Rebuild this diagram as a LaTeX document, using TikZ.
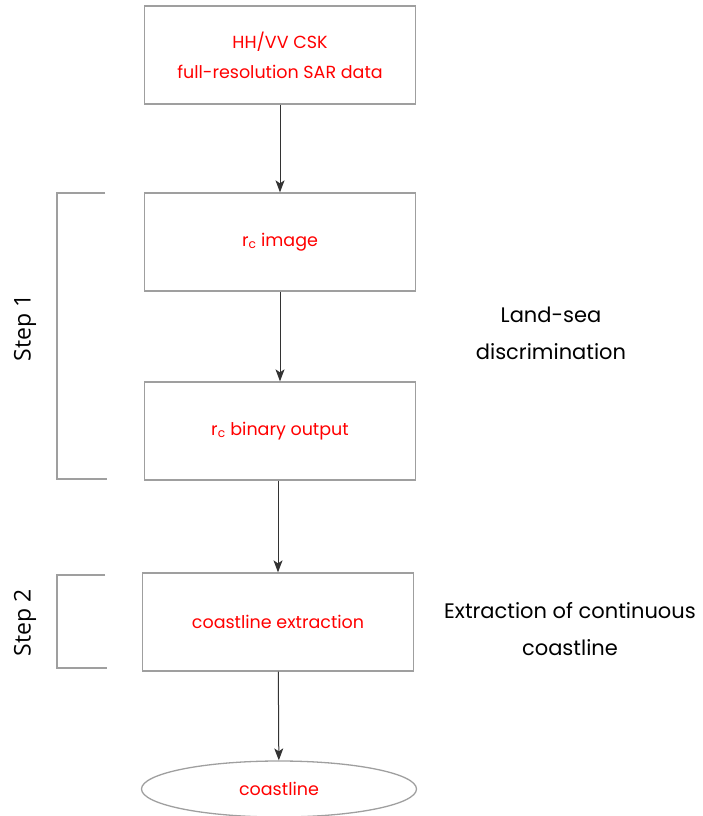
\documentclass[tikz,border=0pt]{standalone}
\usepackage{fontspec}
\setmainfont{Poppins}
\newfontfamily\stepfont{Open Sans}
\usetikzlibrary{arrows.meta,shapes.geometric}
\tikzset{
  flowbox/.style={draw=gray!75, line width=1.3pt, inner sep=0pt, minimum width=271pt, minimum height=98pt, text=red, align=center, font=\fontsize{17.5}{30}\selectfont},
  flowend/.style={flowbox, ellipse, minimum width=275pt, minimum height=56pt},
  flow/.style={-{Stealth[length=12pt,width=9pt,inset=3pt]}, black!80, line width=1pt},
  bracket/.style={gray!75, line width=1.3pt},
  note/.style={align=center, font=\fontsize{21}{37}\selectfont},
  steplabel/.style={rotate=90, font=\stepfont\fontsize{23}{28}\selectfont}
}
\begin{document}
\begin{tikzpicture}[x=1pt, y=-1pt]
        \useasboundingbox (0,0) rectangle (703,816);

        % Flow boxes
        \node[flowbox] (data) at (280,55) {HH/VV CSK\\full-resolution SAR data};
        \node[flowbox] (image) at (280,242) {r\textsubscript{c} image};
        \node[flowbox] (binary) at (280,431) {r\textsubscript{c} binary output};
        \node[flowbox] (extract) at (278,622) {coastline extraction};
        \node[flowend] (coast) at (279,789) {coastline};

        % Arrows
        \draw[flow] (data) -- (image);
        \draw[flow] (image) -- (binary);
        \draw[flow] (binary.south -| extract) -- (extract);
        \draw[flow] (extract) -- (coast);

        % Step 1
        \draw[bracket] (105,193) -- (57,193) -- (57,479) -- (107,479);
        \node[steplabel] (step1) at (25,328) {Step 1};
        \node[note] (landsea) at (551,333) {Land-sea\\discrimination};

        % Step 2
        \draw[bracket] (105,575) -- (57,575) -- (57,668) -- (107,668);
        \node[steplabel] (step2) at (25,623) {Step 2};
        \node[note] (continuous) at (570,629) {Extraction of continuous\\coastline};
\end{tikzpicture}
\end{document}
